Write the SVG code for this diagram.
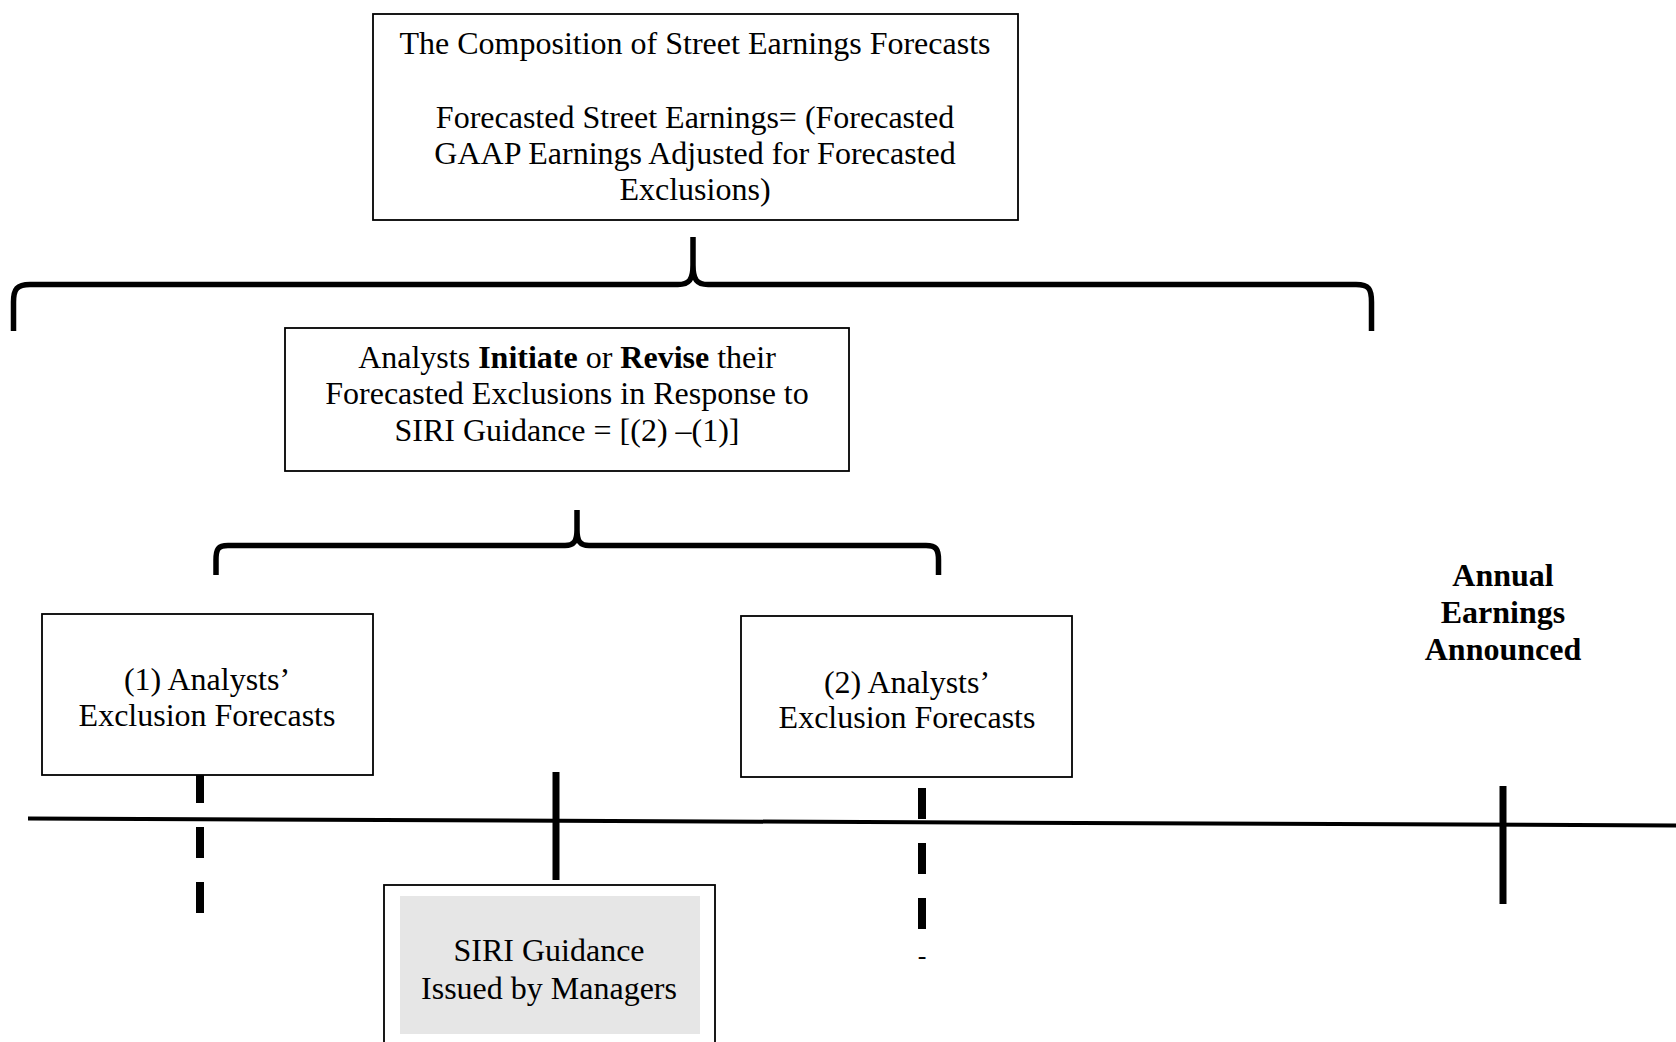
<svg xmlns="http://www.w3.org/2000/svg" width="1676" height="1042" viewBox="0 0 1676 1042">
<style>
text{font-family:"Liberation Serif","Times New Roman",serif;font-size:32px;fill:#000;text-anchor:middle}
.b{font-weight:bold}
.box{fill:#fff;stroke:#000;stroke-width:1.8}
.brace{fill:none;stroke:#000;stroke-width:5.5;stroke-linejoin:round}
.tick{stroke:#000;stroke-width:7}
.dash{stroke:#000;stroke-width:8;stroke-dasharray:31 24}
</style>
<rect width="1676" height="1042" fill="#fff"/>
<g id="connectors">
<path class="brace" d="M13.5,331 L13.5,302 C13.5,289 17,284.5 30,284.5 L678,284.5 C689,284.5 693,280 693,265 L693,237 M693,265 C693,280 697,284.5 708,284.5 L1356,284.5 C1369,284.5 1371.5,289 1371.5,302 L1371.5,331"/>
<path class="brace" d="M216,575 L216,560 C216,549 218,545.5 228,545.5 L565,545.5 C574,545.5 577,541 577,530 L577,510 M577,530 C577,541 580,545.5 589,545.5 L926,545.5 C936,545.5 938.5,549 938.5,560 L938.5,575"/>
<line x1="28" y1="818.5" x2="1676" y2="825.5" stroke="#000" stroke-width="4"/>
<line class="dash" x1="200" y1="772" x2="200" y2="916"/>
<line class="tick" x1="556" y1="772" x2="556" y2="880" stroke-width="6"/>
<line class="dash" x1="922" y1="788" x2="922" y2="932"/>
<line class="tick" x1="1503" y1="786" x2="1503" y2="904" stroke-width="6"/>
</g>
<g id="top-box">
<rect class="box" x="373" y="14" width="645" height="206"/>
<text x="695" y="54">The Composition of Street Earnings Forecasts</text>
<text x="695" y="128">Forecasted Street Earnings= (Forecasted</text>
<text x="695" y="164">GAAP Earnings Adjusted for Forecasted</text>
<text x="695" y="200">Exclusions)</text>
</g>
<g id="revise-box">
<rect class="box" x="285" y="328" width="564" height="143"/>
<text x="567" y="368">Analysts <tspan class="b">Initiate</tspan> or <tspan class="b">Revise</tspan> their</text>
<text x="567" y="404">Forecasted Exclusions in Response to</text>
<text x="567" y="441">SIRI Guidance = [(2) –(1)]</text>
</g>
<g id="forecast1">
<rect class="box" x="42" y="614" width="331" height="161"/>
<text x="207" y="690">(1) Analysts’</text>
<text x="207" y="726">Exclusion Forecasts</text>
</g>
<g id="forecast2">
<rect class="box" x="741" y="616" width="331" height="161"/>
<text x="907" y="693">(2) Analysts’</text>
<text x="907" y="728">Exclusion Forecasts</text>
</g>
<g id="siri">
<rect class="box" x="384" y="885" width="331" height="180"/>
<rect x="400" y="896" width="300" height="138" fill="#e6e6e6"/>
<text x="549" y="961">SIRI Guidance</text>
<text x="549" y="999">Issued by Managers</text>
</g>
<g id="annual">
<text class="b" x="1503" y="586">Annual</text>
<text class="b" x="1503" y="623">Earnings</text>
<text class="b" x="1503" y="660">Announced</text>
</g>
<g id="dash-label">
<text x="922" y="964" style="font-size:26px">-</text>
</g>
</svg>
